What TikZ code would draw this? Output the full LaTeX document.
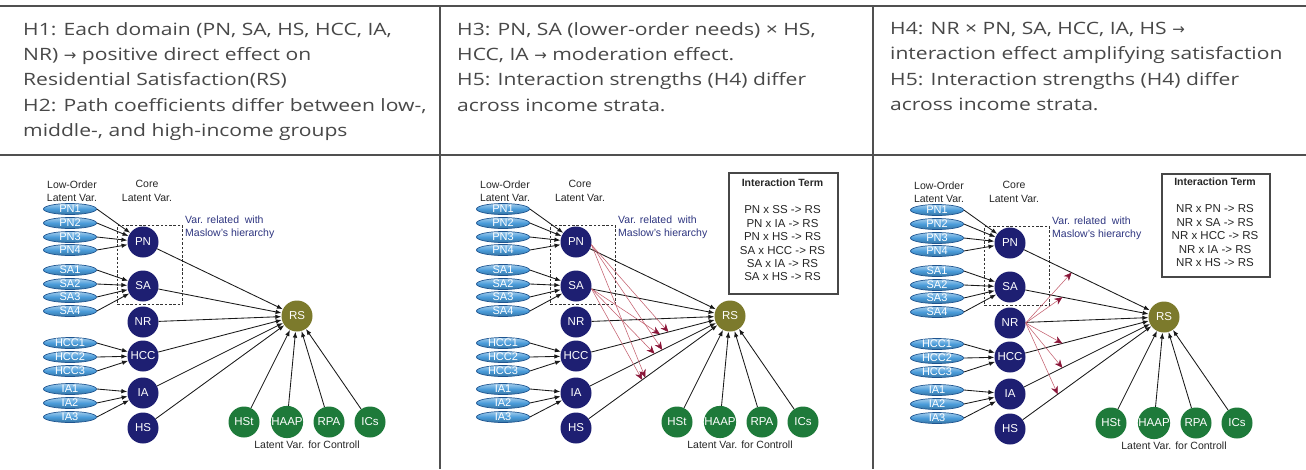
\documentclass[tikz,border=0pt]{standalone}
\usepackage{fontspec}
\setmainfont{Liberation Sans}
\newfontfamily\headfont[FakeStretch=1.24]{Open Sans}
\newfontfamily\arrowfont{DejaVu Sans}
\usetikzlibrary{arrows.meta,calc,shapes.geometric}

\definecolor{rulegray}{HTML}{505050}
\definecolor{headtext}{HTML}{484848}
\definecolor{corenavy}{HTML}{1E1F72}
\definecolor{olivefill}{HTML}{7C7A2C}
\definecolor{ctrlgreen}{HTML}{1E7A3A}
\definecolor{obsblue}{HTML}{4A9CDA}
\definecolor{obsedge}{HTML}{1F5590}
\definecolor{maslowblue}{HTML}{2E3580}
\definecolor{redline}{HTML}{C4606F}
\definecolor{redtip}{HTML}{8A1538}

\newcommand\harr{{\arrowfont\fontsize{15}{15}\selectfont →}}

\tikzset{
  hdr/.style={anchor=north west, align=left, inner sep=0pt, text=headtext,
    font=\headfont\fontsize{17}{25.3}\selectfont},
  lbl/.style={inner sep=0pt, align=center, text=black!85,
    font=\fontsize{10.5}{13.5}\selectfont},
  core/.style={circle, fill=corenavy, text=white, minimum size=31pt, inner sep=0pt,
    font=\fontsize{11.5}{11.5}\selectfont},
  outcome/.style={core, fill=olivefill},
  ctrl/.style={core, fill=ctrlgreen},
  obs/.style={ellipse, top color=obsblue!50!white, bottom color=obsblue!75!black,
    middle color=obsblue, draw=obsedge, line width=0.7pt, minimum width=53pt,
    minimum height=11pt, inner sep=0pt, text height=7pt, text depth=0pt, text=white,
    font=\fontsize{11}{11}\selectfont},
  link/.style={draw=black!90, line width=0.85pt, -{Latex[length=6pt,width=4.5pt]}},
  inter/.style={draw=redline, line width=0.55pt,
    -{Stealth[length=8pt,width=7pt,inset=2.5pt,color=redtip]}},
  maslowgroup/.style={draw=black!80, dash pattern=on 2.5pt off 1.8pt, line width=0.9pt,
    inner sep=0pt, anchor=north west},
  termbox/.style={draw=black!72, line width=1.6pt, fill=white, anchor=north west, inner sep=0pt},
  termtext/.style={inner sep=0pt, align=center, anchor=north, text=black!85,
    font=\fontsize{11.5}{13.4}\selectfont},
}

% One structural model; #1 is the prefix of its node names.
\newcommand\semmodel[1]{%
  \node[maslowgroup, minimum width=65, minimum height=79] (#1box) at (117,225) {};
  \node[lbl] (#1low) at (72,191) {Low-Order\\Latent Var.};
  \node[lbl] (#1corehead) at (147,191) {Core\\Latent Var.};
  \node[lbl, anchor=west, align=left, text=maslowblue] (#1maslow) at (185,227.5)
    {Var. related\ \ with\\Maslow's hierarchy};
  \foreach \n/\y in {PN1/209,PN2/223,PN3/237,PN4/250,SA1/270,SA2/284,SA3/297,SA4/311,
      HCC1/343,HCC2/357,HCC3/371,IA1/389,IA2/403,IA3/417}
    \node[obs] (#1\n) at (70,\y) {\n};
  \foreach \n/\y in {PN/242,SA/286,NR/322,HCC/356,IA/393,HS/428}
    \node[core] (#1\n) at (143,\y) {\n};
  \node[outcome] (#1RS) at (297,316) {RS};
  \foreach \n/\x in {HSt/244,HAAP/287,RPA/329,ICs/370}
    \node[ctrl] (#1\n) at (\x,422) {\n};
  \node[lbl] (#1ctrlhead) at (307,445) {Latent Var. for Controll};
  % indicators to core variables
  \foreach \s in {1,...,4} \draw[link] (#1PN\s.east) -- (#1PN);
  \foreach \s in {1,...,4} \draw[link] (#1SA\s.east) -- (#1SA);
  \foreach \s in {1,...,3} \draw[link] (#1HCC\s.east) -- (#1HCC);
  \foreach \s in {1,...,3} \draw[link] (#1IA\s.east) -- (#1IA);
  % direct effects on residential satisfaction
  \foreach \s in {PN,SA,NR,HCC,IA,HS,HSt,HAAP,RPA,ICs} \draw[link] (#1\s) -- (#1RS);
}

\begin{document}
\begin{tikzpicture}[x=1pt,y=-1pt]
\fill[white] (0,0) rectangle (1306,469);
\useasboundingbox (0,0) rectangle (1306,469);

% table rules
\draw[rulegray, line width=1.4pt] (0,6) -- (1306,6);
\draw[rulegray, line width=1.4pt] (0,155) -- (1306,155);
\draw[rulegray, line width=1.4pt] (440,6) -- (440,469);
\draw[rulegray, line width=1.4pt] (873,6) -- (873,469);

% hypotheses
\node[hdr] (h1) at (23,22) {H1: Each domain (PN, SA, HS, HCC, IA,\\
  NR) \harr\ positive direct effect on\\
  Residential Satisfaction(RS)\\
  H2: Path coefficients differ between low-,\\
  middle-, and high-income groups};
\node[hdr] (h3) at (457,22) {H3: PN, SA (lower-order needs) × HS,\\
  HCC, IA \harr\ moderation effect.\\
  H5: Interaction strengths (H4) differ\\
  across income strata.};
\node[hdr] (h4) at (890,22) {H4: NR × PN, SA, HCC, IA, HS \harr\\
  interaction effect amplifying satisfaction\\
  H5: Interaction strengths (H4) differ\\
  across income strata.};

% model 1: direct effects
\semmodel{a}

% model 2: moderation by lower-order needs
\begin{scope}[shift={(433,0)}]
  \semmodel{b}
\end{scope}
\coordinate (bm1) at ($(bHCC)!0.60!(bRS)$);
\coordinate (bm2) at ($(bIA)!0.56!(bRS)$);
\coordinate (bm3) at ($(bHS)!0.45!(bRS)$);
\coordinate (bm4) at ($(bHCC)!0.545!(bRS)$);
\coordinate (bm5) at ($(bIA)!0.51!(bRS)$);
\coordinate (bm6) at ($(bHS)!0.43!(bRS)$);
\foreach \t in {bm1,bm2,bm3} \draw[inter] (bPN.-10) -- (\t);
\foreach \t in {bm4,bm5,bm6} \draw[inter] (bSA.-10) -- (\t);
\node[termbox, minimum width=109, minimum height=121] (bterms) at (728,172) {};
\node[termtext] (btermlist) at (782.5,179) {{\bfseries\fontsize{10.5}{12}\selectfont Interaction Term}\\[13.6pt]
  PN x SS -> RS\\ PN x IA -> RS\\ PN x HS -> RS\\ SA x HCC -> RS\\ SA x IA -> RS\\ SA x HS -> RS};

% model 3: interaction with neighbourhood relations
\begin{scope}[shift={(867,1)}]
  \semmodel{c}
\end{scope}
\coordinate (cm1) at ($(cPN)!0.40!(cRS)$);
\coordinate (cm2) at ($(cSA)!0.34!(cRS)$);
\coordinate (cm3) at ($(cHCC)!0.34!(cRS)$);
\coordinate (cm4) at ($(cIA)!0.34!(cRS)$);
\coordinate (cm5) at ($(cHS)!0.31!(cRS)$);
\foreach \t in {cm1,cm2,cm3,cm4,cm5} \draw[inter] (cNR.east) -- (\t);
\node[termbox, minimum width=108, minimum height=103] (cterms) at (1161,173) {};
\node[termtext] (ctermlist) at (1215,178) {{\bfseries\fontsize{10.5}{12}\selectfont Interaction Term}\\[13.6pt]
  NR x PN -> RS\\ NR x SA -> RS\\ NR x HCC -> RS\\ NR x IA -> RS\\ NR x HS -> RS};
\end{tikzpicture}
\end{document}
